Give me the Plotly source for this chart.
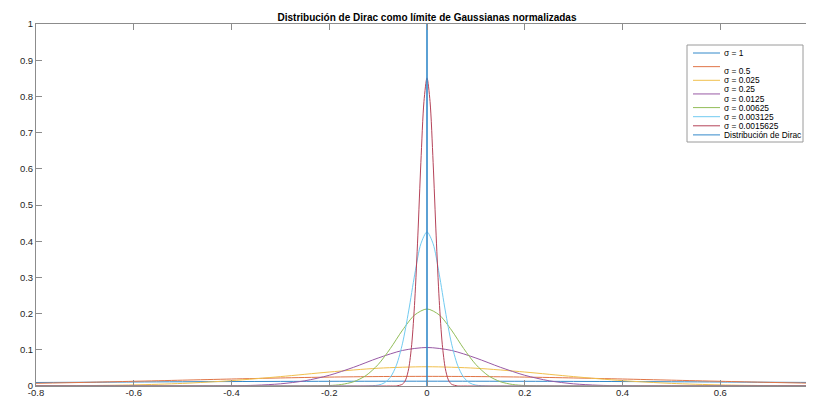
import plotly.graph_objects as go

# ---------------- data ----------------
title_text = "Distribución de Dirac como límite de Gaussianas normalizadas"

x_ticks = [-0.8, -0.6, -0.4, -0.2, 0, 0.2, 0.4, 0.6, 0.8]
x_tick_labels = ["-0.8", "-0.6", "-0.4", "-0.2", "0", "0.2", "0.4", "0.6", "0.8"]
y_ticks = [0, 0.1, 0.2, 0.3, 0.4, 0.5, 0.6, 0.7, 0.8, 0.9, 1]
y_tick_labels = ["0", "0.1", "0.2", "0.3", "0.4", "0.5", "0.6", "0.7", "0.8", "0.9", "1"]

# sigma = 1 (blue)
x_blue = [-0.8, -0.6, -0.4, -0.2, 0, 0.2, 0.4, 0.6, 0.8]
y_blue = [0.0097, 0.0111, 0.0123, 0.0130, 0.0133, 0.0130, 0.0123, 0.0111, 0.0097]

# sigma = 0.5 (orange)
x_orange = [-0.8, -0.7, -0.6, -0.5, -0.4, -0.3, -0.2, -0.1, 0, 0.1, 0.2, 0.3, 0.4, 0.5, 0.6, 0.7, 0.8]
y_orange = [0.0074, 0.0100, 0.0130, 0.0161, 0.0193, 0.0222, 0.0246, 0.0261, 0.0266,
            0.0261, 0.0246, 0.0222, 0.0193, 0.0161, 0.0130, 0.0100, 0.0074]

# sigma = 0.25 (yellow)
x_yellow = [-0.8, -0.7, -0.6, -0.5, -0.4, -0.3, -0.2, -0.1, 0, 0.1, 0.2, 0.3, 0.4, 0.5, 0.6, 0.7, 0.8]
y_yellow = [0.0003, 0.0011, 0.0030, 0.0072, 0.0148, 0.0259, 0.0386, 0.0491, 0.0532,
            0.0491, 0.0386, 0.0259, 0.0148, 0.0072, 0.0030, 0.0011, 0.0003]

# sigma = 0.125 (purple)
x_purple = [-0.8, -0.5, -0.4, -0.35, -0.3, -0.25, -0.2, -0.15, -0.1, -0.05, 0,
            0.05, 0.1, 0.15, 0.2, 0.25, 0.3, 0.35, 0.4, 0.5, 0.8]
y_purple = [0.0, 0.0, 0.0006, 0.0021, 0.0060, 0.0144, 0.0296, 0.0518, 0.0773, 0.0982, 0.1064,
            0.0982, 0.0773, 0.0518, 0.0296, 0.0144, 0.0060, 0.0021, 0.0006, 0.0, 0.0]

# sigma = 0.0625 (green)
x_green = [-0.8, -0.3, -0.25, -0.2, -0.175, -0.15, -0.125, -0.1, -0.075, -0.05, -0.025, 0,
           0.025, 0.05, 0.075, 0.1, 0.125, 0.15, 0.175, 0.2, 0.25, 0.3, 0.8]
y_green = [0.0, 0.0, 0.0001, 0.0013, 0.0042, 0.0119, 0.0288, 0.0592, 0.1036, 0.1545, 0.1964, 0.2128,
           0.1964, 0.1545, 0.1036, 0.0592, 0.0288, 0.0119, 0.0042, 0.0013, 0.0001, 0.0, 0.0]

# sigma = 0.03125 (cyan)
x_cyan = [-0.8, -0.15, -0.125, -0.1, -0.0875, -0.075, -0.0625, -0.05, -0.0375, -0.025, -0.0125, 0,
          0.0125, 0.025, 0.0375, 0.05, 0.0625, 0.075, 0.0875, 0.1, 0.125, 0.15, 0.8]
y_cyan = [0.0, 0.0, 0.0001, 0.0025, 0.0084, 0.0239, 0.0576, 0.1183, 0.2073, 0.3090, 0.3929, 0.4256,
          0.3929, 0.3090, 0.2073, 0.1183, 0.0576, 0.0239, 0.0084, 0.0025, 0.0001, 0.0, 0.0]

# sigma = 0.015625 (red)
x_red = [-0.8, -0.075, -0.0625, -0.05, -0.04375, -0.0375, -0.03125, -0.025, -0.01875, -0.0125, -0.00625, 0,
         0.00625, 0.0125, 0.01875, 0.025, 0.03125, 0.0375, 0.04375, 0.05, 0.0625, 0.075, 0.8]
y_red = [0.0, 0.0, 0.0003, 0.0051, 0.0168, 0.0477, 0.1152, 0.2367, 0.4146, 0.6180, 0.7857, 0.8512,
         0.7857, 0.6180, 0.4146, 0.2367, 0.1152, 0.0477, 0.0168, 0.0051, 0.0003, 0.0, 0.0]

# Dirac (vertical spike)
x_dirac = [0, 0]
y_dirac = [0, 1]

# legend text (as laid out in the picture: lines of text, and which line each sample sits on)
legend_lines = ["σ = 1", "", "σ = 0.5", "σ = 0.025", "σ = 0.25", "σ = 0.0125",
                "σ = 0.00625", "σ = 0.003125", "σ = 0.0015625", "Distribución de Dirac"]
legend_sample_rows = [0, 1.5, 3, 4.5, 6, 7, 8, 9]   # row (line index) of each sample line

colors = ["#3389ca", "#e07547", "#f1c04d", "#9859a5", "#92bd59", "#71cbf1", "#b54359", "#3389ca"]

# ---------------- figure ----------------
W, H = 814, 399
L, R, T, B = 28, 4, 16, 21
pw, ph = W - L - R, H - T - B

series = [(x_blue, y_blue), (x_orange, y_orange), (x_yellow, y_yellow), (x_purple, y_purple),
          (x_green, y_green), (x_cyan, y_cyan), (x_red, y_red)]

fig = go.Figure()
for (xs, ys), c in zip(series, colors[:7]):
    fig.add_trace(go.Scatter(x=xs, y=ys, mode="lines",
                             line=dict(color=c, width=1, shape="spline", smoothing=0.8),
                             showlegend=False, hoverinfo="skip"))
fig.add_trace(go.Scatter(x=x_dirac, y=y_dirac, mode="lines",
                         line=dict(color=colors[7], width=1.6), showlegend=False, hoverinfo="skip"))

def px_x(p):
    return (p - L) / pw

def px_y(p):
    return (H - B - p) / ph

# legend box
box_l, box_r, box_t, box_b = 679, 795, 37, 134
row0, row_h = 45, 9.1
shapes = [dict(type="rect", xref="paper", yref="paper",
               x0=px_x(box_l), x1=px_x(box_r), y0=px_y(box_b), y1=px_y(box_t),
               line=dict(color="#9a9a9a", width=1), fillcolor="white", layer="above")]
for r, c in zip(legend_sample_rows, colors):
    yy = px_y(row0 + r * row_h)
    shapes.append(dict(type="line", xref="paper", yref="paper",
                       x0=px_x(685), x1=px_x(712), y0=yy, y1=yy,
                       line=dict(color=c, width=1), layer="above"))
annotations = []
for i, t in enumerate(legend_lines):
    if not t:
        continue
    annotations.append(dict(text=t, xref="paper", yref="paper", x=px_x(714), y=px_y(row0 + i * row_h),
                            xanchor="left", yanchor="middle", showarrow=False,
                            font=dict(family="Liberation Sans, Arial", size=8.4, color="#000000")))

axis_common = dict(showline=True, linecolor="#8c8c8c", linewidth=1, mirror="ticks",
                   ticks="inside", ticklen=6, tickcolor="#8c8c8c", tickwidth=1,
                   showgrid=False, zeroline=False, automargin=False,
                   ticklabeloverflow="allow",
                   tickfont=dict(family="Liberation Sans, Arial", size=9.5, color="#262626"))

fig.update_layout(
    width=W, height=H, margin=dict(l=L, r=R, t=T, b=B),
    paper_bgcolor="white", plot_bgcolor="white", template="none",
    title=dict(text="<b>" + title_text + "</b>", x=0.5, xref="paper", xanchor="center",
               y=1 - 9 / H, yref="container", yanchor="middle",
               font=dict(family="Liberation Sans, Arial", size=10, color="#000000")),
    xaxis=dict(range=[-0.8, 0.8], tickvals=x_ticks, ticktext=x_tick_labels,
               ticklabelstandoff=-2, **axis_common),
    yaxis=dict(range=[0, 1], tickvals=y_ticks, ticktext=y_tick_labels, **axis_common),
    shapes=shapes, annotations=annotations, showlegend=False,
)

fig.write_html("out.html")
